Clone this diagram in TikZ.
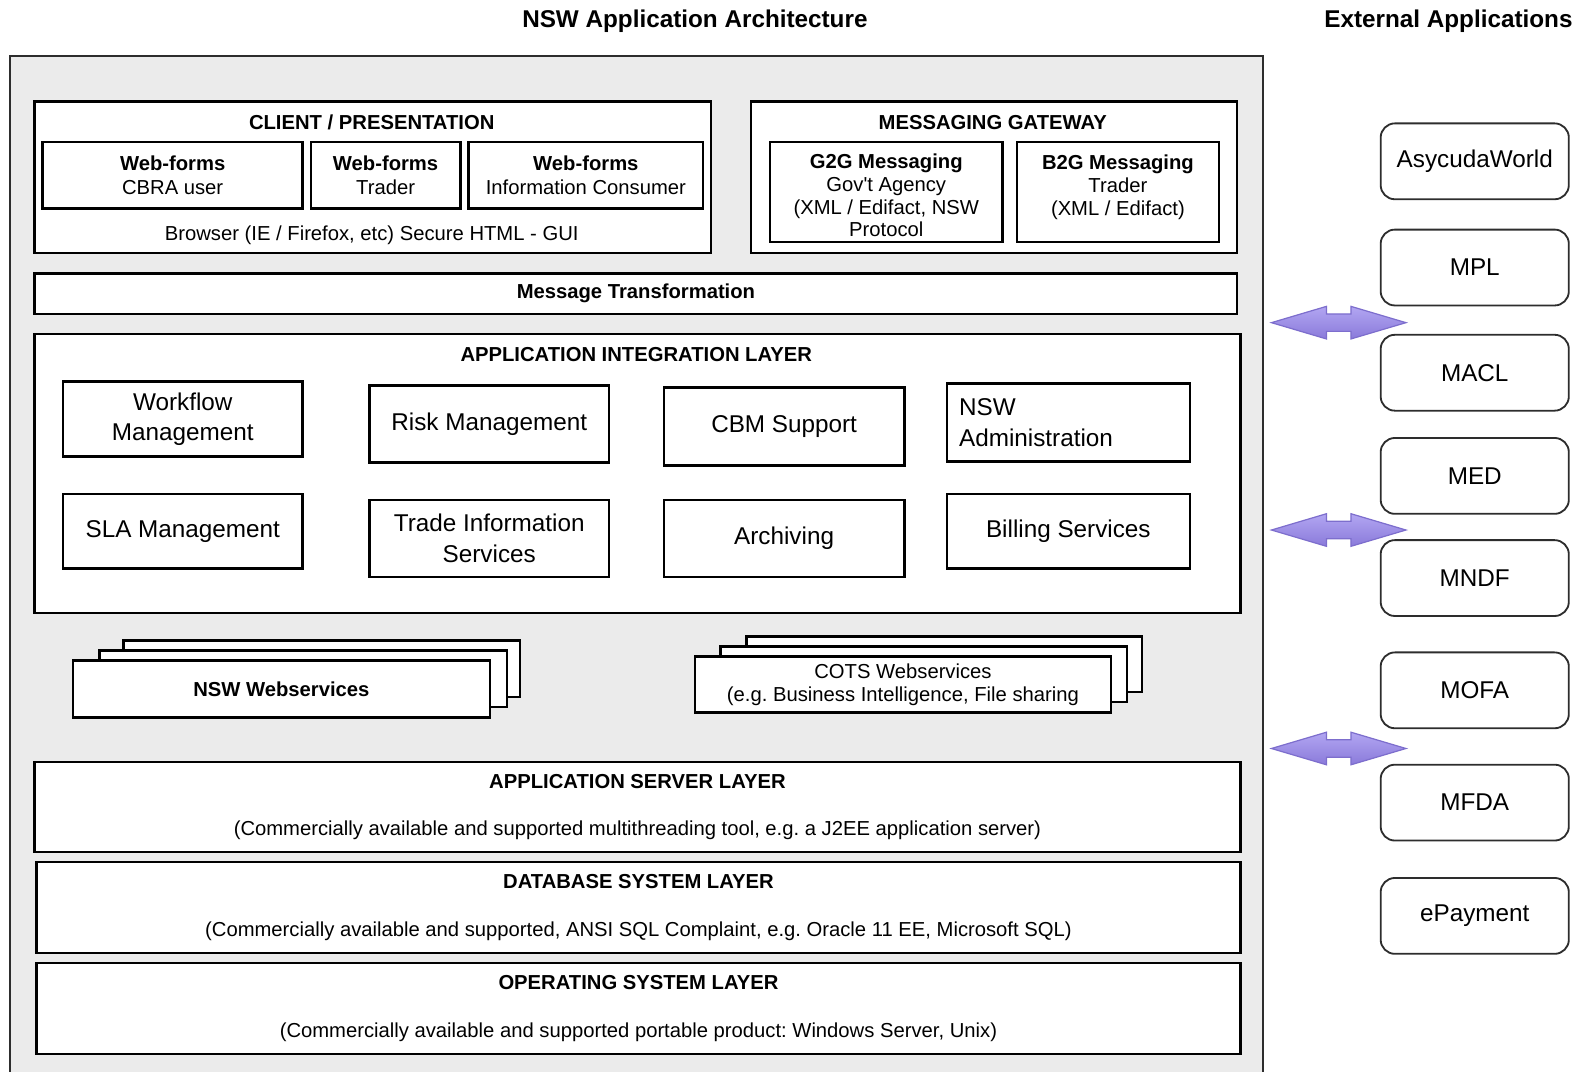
\documentclass[tikz,border=0pt]{standalone}
\usepackage{fontspec}
\setmainfont{Liberation Sans}
\usetikzlibrary{shapes.arrows}
\frenchspacing

\begin{document}
\begin{tikzpicture}[x=0.5pt, y=-0.5pt]
    % Define colors
    \definecolor{panel}{RGB}{235,235,235}
    \definecolor{frame}{RGB}{45,45,45}
    \definecolor{linktop}{RGB}{178,166,242}
    \definecolor{linkbottom}{RGB}{138,122,218}
    \definecolor{linkline}{RGB}{125,110,205}

    % Define styles
    \tikzstyle{layer} = [rectangle, draw=black, line width=1.2pt, fill=white, anchor=north west, inner sep=0pt]
    \tikzstyle{comp} = [layer, align=center, font=\fontsize{12}{15}\selectfont]
    \tikzstyle{base} = [layer, align=center, font=\fontsize{10}{12}\selectfont]
    \tikzstyle{head} = [font=\fontsize{10}{12}\selectfont\bfseries]
    \tikzstyle{small} = [align=center, font=\fontsize{10}{11.5}\selectfont]
    \tikzstyle{msg} = [align=center, anchor=north, inner sep=0pt, font=\fontsize{10}{11.2}\selectfont]
    \tikzstyle{title} = [font=\fontsize{12}{14}\selectfont\bfseries]
    \tikzstyle{extapp} = [rectangle, rounded corners=7pt, draw=frame, line width=0.9pt, fill=white, minimum width=93pt, minimum height=37.5pt, font=\fontsize{12}{14}\selectfont]
    \tikzstyle{link} = [double arrow, draw=linkline, line width=0.6pt, top color=linktop, bottom color=linkbottom, minimum height=66.5pt, inner xsep=0pt, inner ysep=4pt, double arrow head extend=3.75pt, double arrow tip angle=33]

    \useasboundingbox (0,0) rectangle (1568,1059);

    % Titles
    \node[title] (nswtitle) at (687,21) {NSW Application Architecture};
    \node[title] (exttitle) at (1432,21) {External Applications};

    % NSW panel (open at the bottom)
    \filldraw[fill=panel, draw=frame, line width=1pt] (10,1065) -- (10,55) -- (1249,55) -- (1249,1065);

    % Client / presentation
    \node[layer, minimum width=334.5pt, minimum height=75pt] (client) at (33,99) {};
    \node[head] (clienttitle) at (367.5,121) {CLIENT / PRESENTATION};
    \node[layer, small, minimum width=128.5pt, minimum height=33pt] (wfcbra) at (41,139) {\textbf{Web-forms}\\CBRA user};
    \node[layer, small, minimum width=74pt, minimum height=33pt] (wftrader) at (306,139) {\textbf{Web-forms}\\Trader};
    \node[layer, small, minimum width=116pt, minimum height=33pt] (wfinfo) at (462,139) {\textbf{Web-forms}\\Information Consumer};
    \node[small] (browser) at (367.5,233) {Browser (IE / Firefox, etc) Secure HTML - GUI};

    % Messaging gateway
    \node[layer, minimum width=240.5pt, minimum height=75pt] (gateway) at (741,99) {};
    \node[head] (gatewaytitle) at (981.5,121) {MESSAGING GATEWAY};
    \node[layer, minimum width=115pt, minimum height=49.5pt] (g2g) at (760,139) {};
    \node[msg] (g2gtext) at ([yshift=-6.5pt]g2g.north) {\textbf{G2G Messaging}\\Gov\textquotesingle t Agency\\(XML / Edifact, NSW\\Protocol};
    \node[layer, minimum width=100pt, minimum height=49.5pt] (b2g) at (1004,139) {};
    \node[msg] (b2gtext) at ([yshift=-7pt]b2g.north) {\textbf{B2G Messaging}\\Trader\\(XML / Edifact)};

    \node[layer, head, minimum width=594.5pt, minimum height=20pt] (msgtrans) at (33,269) {Message Transformation};

    % Application integration layer
    \node[layer, minimum width=596pt, minimum height=138pt] (integ) at (33,329) {};
    \node[head] (integtitle) at (629,351) {APPLICATION INTEGRATION LAYER};
    \node[comp, minimum width=118.5pt, minimum height=37pt] (workflow) at (61,376) {Workflow\\Management};
    \node[comp, minimum width=118.5pt, minimum height=38pt] (risk) at (364,380) {Risk Management};
    \node[comp, minimum width=119pt, minimum height=38.5pt] (cbm) at (655,382) {CBM Support};
    \node[comp, align=left, text width=108pt, minimum width=120pt, minimum height=38.5pt] (nswadmin) at (935,378) {NSW\\Administration};
    \node[comp, minimum width=118.5pt, minimum height=37pt] (sla) at (61,487) {SLA Management};
    \node[comp, minimum width=118.5pt, minimum height=38pt] (trade) at (364,493) {Trade Information\\Services};
    \node[comp, minimum width=119pt, minimum height=38pt] (archiving) at (655,493) {Archiving};
    \node[comp, minimum width=120pt, minimum height=37pt] (billing) at (935,487) {Billing Services};

    % Webservices stacks
    \node[layer, minimum width=196pt, minimum height=28pt] (nswwsback) at (121,632) {};
    \node[layer, minimum width=201.5pt, minimum height=28pt] (nswwsmid) at (97,642) {};
    \node[layer, head, minimum width=206pt, minimum height=28pt] (nswws) at (71,652) {NSW Webservices};
    \node[layer, minimum width=195.5pt, minimum height=27.5pt] (cotsback) at (737,628) {};
    \node[layer, minimum width=201pt, minimum height=27.5pt] (cotsmid) at (711,638) {};
    \node[layer, small, minimum width=205.5pt, minimum height=27.5pt] (cots) at (686,648) {COTS Webservices\\(e.g. Business Intelligence, File sharing};

    % Server, database and OS layers
    \node[base, minimum width=596pt, minimum height=44.5pt] (appserver) at (33,752) {\textbf{APPLICATION SERVER LAYER}\\[11.5pt](Commercially available and supported multithreading tool, e.g. a J2EE application server)};
    \node[base, minimum width=595pt, minimum height=45pt] (dbsystem) at (35,851) {\textbf{DATABASE SYSTEM LAYER}\\[11.5pt](Commercially available and supported, ANSI SQL Complaint, e.g. Oracle 11 EE, Microsoft SQL)};
    \node[base, minimum width=595pt, minimum height=45pt] (ossystem) at (35,951) {\textbf{OPERATING SYSTEM LAYER}\\[11.5pt](Commercially available and supported portable product: Windows Server, Unix)};

    % External applications
    \node[extapp] (asycuda) at (1458,159.5) {AsycudaWorld};
    \node[extapp] (mpl) at (1458,264.5) {MPL};
    \node[extapp] (macl) at (1458,368.5) {MACL};
    \node[extapp] (med) at (1458,470.5) {MED};
    \node[extapp] (mndf) at (1458,571.5) {MNDF};
    \node[extapp] (mofa) at (1458,682.5) {MOFA};
    \node[extapp] (mfda) at (1458,793.5) {MFDA};
    \node[extapp] (epayment) at (1458,905.5) {ePayment};

    % Exchange arrows
    \node[link] (linkupper) at (1323.5,319) {};
    \node[link] (linkmiddle) at (1323.5,524) {};
    \node[link] (linklower) at (1323.5,740) {};
\end{tikzpicture}
\end{document}
